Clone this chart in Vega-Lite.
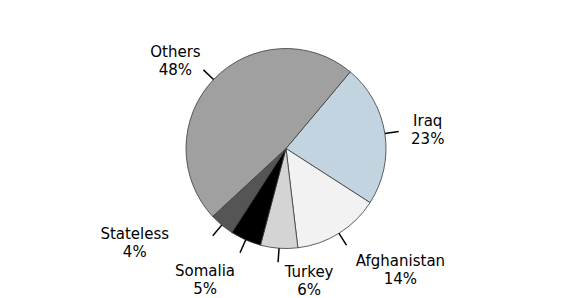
{
  "$schema": "https://vega.github.io/schema/vega-lite/v6.json",
  "width": 572,
  "height": 298,
  "autosize": {"type": "fit", "contains": "padding"},
  "padding": 0,
  "background": "white",
  "config": {"view": {"stroke": null}},
  "data": {
    "values": [
      {"country": "Iraq", "share": 23, "order": 1, "label": "Iraq\n23%"},
      {"country": "Afghanistan", "share": 14, "order": 2, "label": "Afghanistan\n14%"},
      {"country": "Turkey", "share": 6, "order": 3, "label": "Turkey\n6%"},
      {"country": "Somalia", "share": 5, "order": 4, "label": "Somalia\n5%"},
      {"country": "Stateless", "share": 4, "order": 5, "label": "Stateless\n4%"},
      {"country": "Others", "share": 48, "order": 6, "label": "Others\n48%"}
    ]
  },
  "transform": [
    {"stack": "share", "groupby": [], "sort": [{"field": "order", "order": "ascending"}], "as": ["s0", "s1"]},
    {"calculate": "(datum.s0 + datum.s1) / 2", "as": "mid"}
  ],
  "layer": [
    {
      "mark": {"type": "arc", "outerRadius": 100, "stroke": "#3a3a3a", "strokeWidth": 0.8},
      "encoding": {
        "theta": {"field": "s0", "type": "quantitative", "scale": {"domain": [0, 100], "range": [0.698, 6.981]}},
        "theta2": {"field": "s1"},
        "color": {
          "field": "country",
          "type": "nominal",
          "scale": {
            "domain": ["Iraq", "Afghanistan", "Turkey", "Somalia", "Stateless", "Others"],
            "range": ["#c2d4e0", "#f2f2f2", "#d4d4d4", "#000000", "#555555", "#a0a0a0"]
          },
          "legend": null
        }
      }
    },
    {
      "mark": {"type": "arc", "innerRadius": 100, "outerRadius": 114, "stroke": "#000000", "strokeWidth": 1.5, "fill": null, "fillOpacity": 0},
      "encoding": {
        "theta": {"field": "mid", "type": "quantitative", "scale": {"domain": [0, 100], "range": [0.698, 6.981]}},
        "theta2": {"field": "mid"}
      }
    },
    {
      "transform": [{"filter": "datum.country == 'Others'"}],
      "mark": {"type": "text", "radius": 114, "dx": -28, "dy": -18, "fontSize": 15, "lineHeight": 18, "font": "DejaVu Sans", "lineBreak": "\n", "align": "center", "baseline": "middle", "color": "#000000"},
      "encoding": {"theta": {"field": "mid", "type": "quantitative", "scale": {"domain": [0, 100], "range": [0.698, 6.981]}}, "text": {"field": "label", "type": "nominal"}}
    },
    {
      "transform": [{"filter": "datum.country == 'Iraq'"}],
      "mark": {"type": "text", "radius": 114, "dx": 29, "dy": -10, "fontSize": 15, "lineHeight": 18, "font": "DejaVu Sans", "lineBreak": "\n", "align": "center", "baseline": "middle", "color": "#000000"},
      "encoding": {"theta": {"field": "mid", "type": "quantitative", "scale": {"domain": [0, 100], "range": [0.698, 6.981]}}, "text": {"field": "label", "type": "nominal"}}
    },
    {
      "transform": [{"filter": "datum.country == 'Afghanistan'"}],
      "mark": {"type": "text", "radius": 114, "dx": 54, "dy": 16, "fontSize": 15, "lineHeight": 18, "font": "DejaVu Sans", "lineBreak": "\n", "align": "center", "baseline": "middle", "color": "#000000"},
      "encoding": {"theta": {"field": "mid", "type": "quantitative", "scale": {"domain": [0, 100], "range": [0.698, 6.981]}}, "text": {"field": "label", "type": "nominal"}}
    },
    {
      "transform": [{"filter": "datum.country == 'Turkey'"}],
      "mark": {"type": "text", "radius": 114, "dx": 31, "dy": 10, "fontSize": 15, "lineHeight": 18, "font": "DejaVu Sans", "lineBreak": "\n", "align": "center", "baseline": "middle", "color": "#000000"},
      "encoding": {"theta": {"field": "mid", "type": "quantitative", "scale": {"domain": [0, 100], "range": [0.698, 6.981]}}, "text": {"field": "label", "type": "nominal"}}
    },
    {
      "transform": [{"filter": "datum.country == 'Somalia'"}],
      "mark": {"type": "text", "radius": 114, "dx": -35, "dy": 18, "fontSize": 15, "lineHeight": 18, "font": "DejaVu Sans", "lineBreak": "\n", "align": "center", "baseline": "middle", "color": "#000000"},
      "encoding": {"theta": {"field": "mid", "type": "quantitative", "scale": {"domain": [0, 100], "range": [0.698, 6.981]}}, "text": {"field": "label", "type": "nominal"}}
    },
    {
      "transform": [{"filter": "datum.country == 'Stateless'"}],
      "mark": {"type": "text", "radius": 114, "dx": -78, "dy": -2, "fontSize": 15, "lineHeight": 18, "font": "DejaVu Sans", "lineBreak": "\n", "align": "center", "baseline": "middle", "color": "#000000"},
      "encoding": {"theta": {"field": "mid", "type": "quantitative", "scale": {"domain": [0, 100], "range": [0.698, 6.981]}}, "text": {"field": "label", "type": "nominal"}}
    }
  ]
}
